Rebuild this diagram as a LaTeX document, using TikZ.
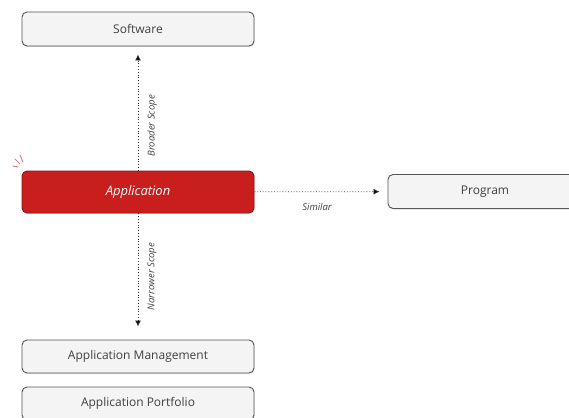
\documentclass[tikz,border=0pt]{standalone}
\usepackage{fontspec}
\setmainfont{Open Sans}
\usetikzlibrary{arrows.meta,shadows}
\definecolor{appred}{HTML}{C81E1E}
\definecolor{boxgray}{HTML}{F4F4F4}
\definecolor{edgegray}{HTML}{555555}
\begin{document}
\begin{tikzpicture}[x=1pt, y=-1pt,
    box/.style={draw=edgegray, line width=0.9pt, fill=boxgray, rounded corners=5pt,
        minimum width=232pt, minimum height=34pt, font=\fontsize{12}{14}\selectfont, text=black!75,
        drop shadow={shadow xshift=0.6pt, shadow yshift=-1pt, opacity=0.25}},
    main box/.style={box, fill=appred, draw=appred!70!black, text=white, minimum height=42pt,
        font=\fontsize{13}{15}\selectfont\itshape},
    rel/.style={dotted, line width=0.8pt, draw=black!80, -{Latex[length=6pt,width=6pt]}},
    rel label/.style={font=\fontsize{9.5}{11}\selectfont\itshape, text=black!75}]
    \useasboundingbox (0,0) rectangle (569,417);

      \node[main box] (app) at (138,192) {Application};
      \node[box] (software) at (138,29) {Software};
      \node[box, minimum width=194pt] (program) at (485,191.5) {Program};
      \node[box, minimum height=33pt] (mgmt) at (138,356.5) {Application Management};
      \node[box, minimum height=33pt] (portfolio) at (138,403.5) {Application Portfolio};

      % spark next to the main node
      \draw[appred!55, line width=1pt, line cap=round]
        (15,159) -- (20,164)  (20,155) -- (23,162)  (13,166) -- (18,167);

      \path[rel]
        (app) edge[shorten >=8pt] node[pos=0.36, rotate=90, anchor=north, inner sep=9pt, rel label] {Broader Scope} (software)
        (app) edge[shorten >=13pt] node[pos=0.5, rotate=90, anchor=north, inner sep=9pt, rel label] {Narrower Scope} (mgmt)
        (app) edge[shorten >=8pt] node[pos=0.47, below=8pt, rel label] {Similar} (program);

\end{tikzpicture}
\end{document}
